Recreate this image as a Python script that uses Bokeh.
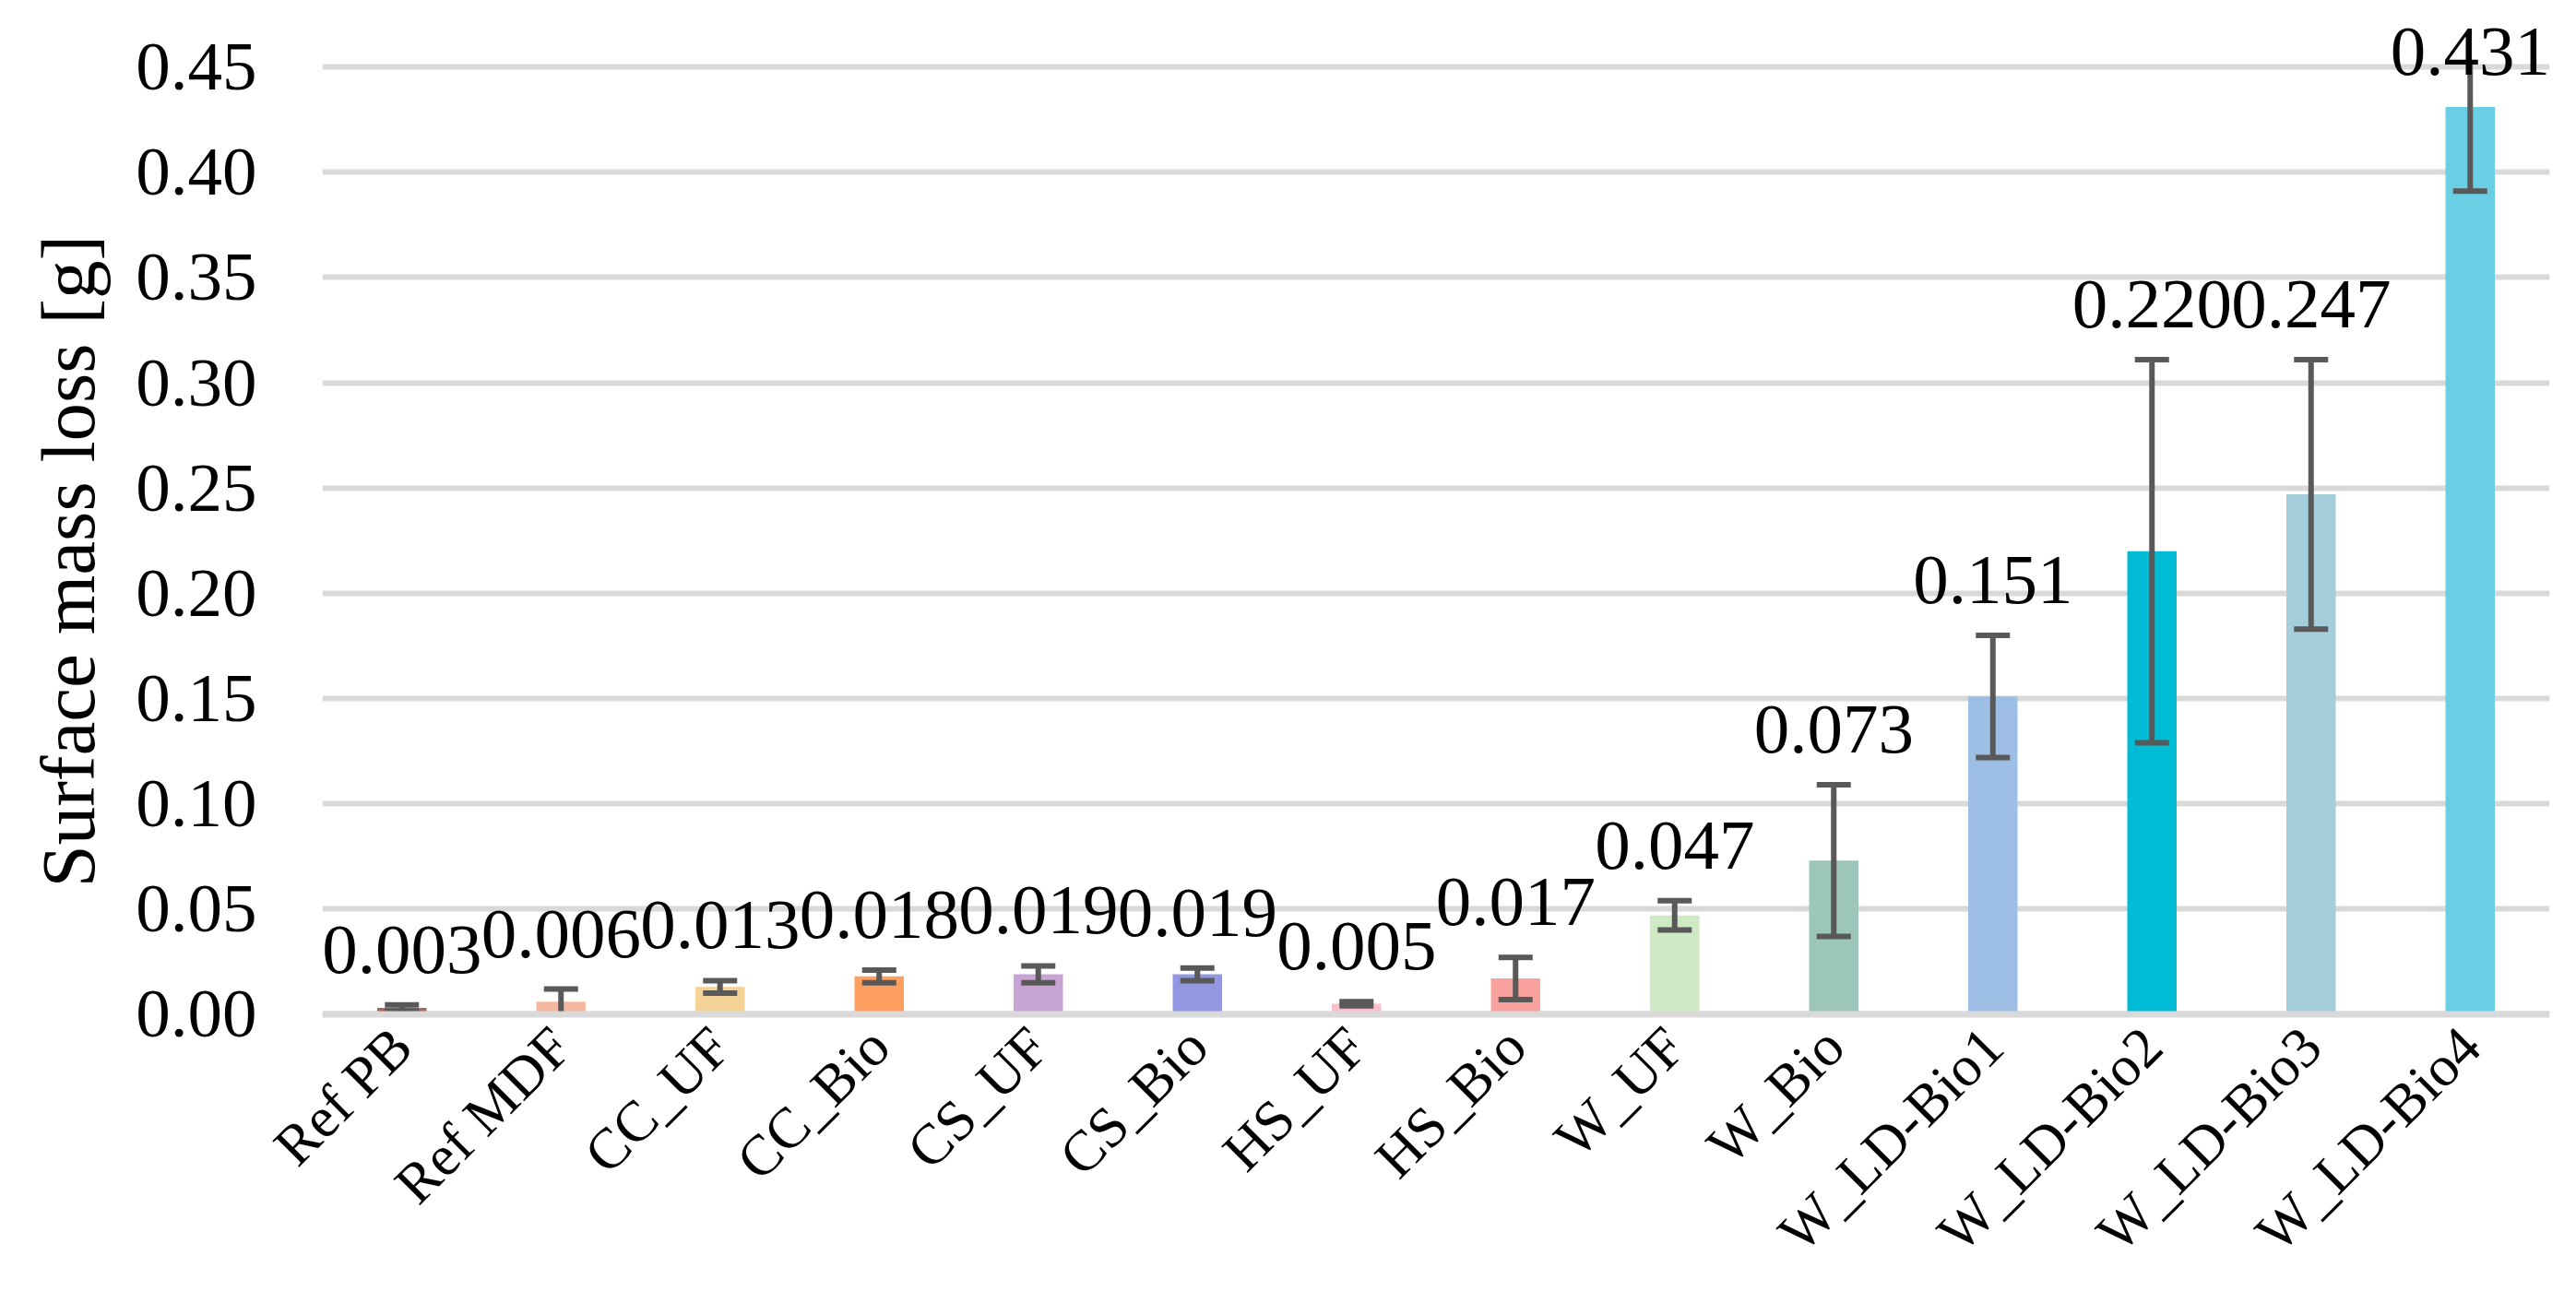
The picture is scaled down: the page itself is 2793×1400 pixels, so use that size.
from bokeh.plotting import figure
from bokeh.models import ColumnDataSource, FixedTicker, NumeralTickFormatter, LabelSet, Span, Title
from bokeh.embed import file_html
from bokeh.resources import INLINE
import math

categories = ["Ref PB", "Ref MDF", "CC_UF", "CC_Bio", "CS_UF", "CS_Bio", "HS_UF", "HS_Bio",
              "W_UF", "W_Bio", "W_LD-Bio1", "W_LD-Bio2", "W_LD-Bio3", "W_LD-Bio4"]
values = [0.003, 0.006, 0.013, 0.018, 0.019, 0.019, 0.005, 0.017,
          0.047, 0.073, 0.151, 0.220, 0.247, 0.431]
errors = [0.0015, 0.006, 0.003, 0.003, 0.004, 0.003, 0.001, 0.010,
          0.007, 0.036, 0.029, 0.091, 0.064, 0.040]
colors = ["#A9675F", "#F2B8A0", "#F5D295", "#FD9F60", "#C8A4D4", "#9197E0", "#F9C0CB", "#F9A19C",
          "#D0E9C5", "#9DC7BB", "#9DBFE5", "#00BCD4", "#A4CEDC", "#6ACFE5"]
y_ticks = [0.00, 0.05, 0.10, 0.15, 0.20, 0.25, 0.30, 0.35, 0.40, 0.45]
y_title = "Surface mass loss [g]"

FONT = "Liberation Serif"
Y_CLIP = 0.4515   # top of the plotting area (error bars are cut here)
Y_END = 0.4737    # extra room so the top data label is not cut

upper = [v + e for v, e in zip(values, errors)]
lower = [max(v - e, 0.0) for v, e in zip(values, errors)]
up_drawn = [min(u, Y_CLIP) for u in upper]
cap_alpha = [1.0 if u <= Y_CLIP else 0.0 for u in upper]
anchor = [u if u <= Y_CLIP else v for u, v in zip(upper, values)]
labels = ["%.3f" % v for v in values]

src = ColumnDataSource(dict(cat=categories, val=values, up=up_drawn, lo=lower, cap_alpha=cap_alpha,
                            anchor=anchor, lab=labels, color=colors))

p = figure(x_range=categories, y_range=(-0.002, Y_END),
           frame_width=2415, frame_height=1086,
           output_backend="svg", toolbar_location=None,
           min_border_left=347, min_border_right=15, min_border_top=18, min_border_bottom=270)
p.outline_line_color = None
p.background_fill_color = "white"
p.border_fill_color = "white"

p.vbar(x="cat", top="val", bottom=0, width=0.31, color="color", line_color=None, source=src)

# error bars
p.segment(x0="cat", y0="lo", x1="cat", y1="up", line_color="#595959", line_width=6, source=src)
p.rect(x="cat", y="up", width=37, height=6, width_units="screen", height_units="screen",
       fill_color="#595959", fill_alpha="cap_alpha", line_color=None, source=src)
p.rect(x="cat", y="lo", width=37, height=6, width_units="screen", height_units="screen",
       fill_color="#595959", line_color=None, source=src)

p.add_layout(Span(location=0, dimension="width", line_color="#D9D9D9", line_width=7))

p.add_layout(LabelSet(x="cat", y="anchor", text="lab", source=src, y_offset=60,
                      text_align="center", text_baseline="middle",
                      text_font=FONT, text_font_size="77px", text_color="black"))

p.xgrid.grid_line_color = None
p.ygrid.grid_line_color = "#D9D9D9"
p.ygrid.grid_line_width = 6
p.ygrid.ticker = FixedTicker(ticks=y_ticks)

p.yaxis.ticker = FixedTicker(ticks=y_ticks)
p.yaxis.formatter = NumeralTickFormatter(format="0.00")
p.yaxis.axis_line_color = None
p.yaxis.major_tick_line_color = None
p.yaxis.minor_tick_line_color = None
p.yaxis.major_label_text_font = FONT
p.yaxis.major_label_text_font_size = "75px"
p.yaxis.major_label_text_color = "black"
p.yaxis.major_label_standoff = 65

p.add_layout(Title(text=y_title, align="left", offset=142, standoff=50,
                   text_font=FONT, text_font_size="83px", text_font_style="normal",
                   text_color="black"), "left")

p.xaxis.axis_line_color = None
p.xaxis.major_tick_line_color = None
p.xaxis.minor_tick_line_color = None
p.xaxis.major_label_orientation = math.pi / 4
p.xaxis.major_label_text_font = FONT
p.xaxis.major_label_text_font_size = "62px"
p.xaxis.major_label_text_color = "black"
p.xaxis.major_label_standoff = 14

open("out.html", "w").write(file_html(p, INLINE))
